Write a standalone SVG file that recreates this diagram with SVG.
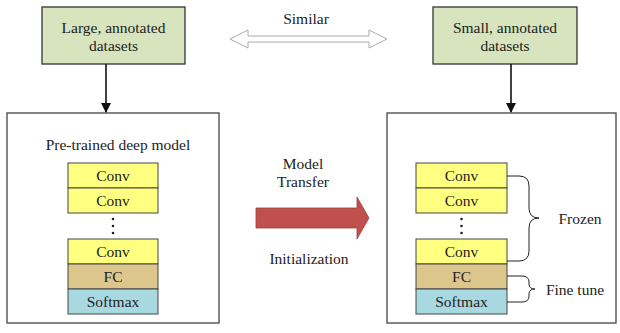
<svg xmlns="http://www.w3.org/2000/svg" width="620" height="333" viewBox="0 0 620 333">
<style>
text{font-family:'Liberation Serif','Times New Roman','DejaVu Serif',serif;font-size:15.5px;fill:#222;text-anchor:middle;dominant-baseline:central}
.ds{fill:#d7e4bd;stroke:#333;stroke-width:1.3}
.frame{fill:#fff;stroke:#444;stroke-width:1.3}
.conv{fill:#ffff80;stroke:#444;stroke-width:1}
.fc{fill:#dcc68c;stroke:#444;stroke-width:1}
.sm{fill:#a8d8e0;stroke:#444;stroke-width:1}
.ln{stroke:#111;stroke-width:1.6;fill:none}
.br{stroke:#222;stroke-width:1;fill:none}
</style>
<defs>
<marker id="ah" markerWidth="10" markerHeight="10" refX="9" refY="5" orient="auto" markerUnits="userSpaceOnUse">
<path d="M0,0 L10,5 L0,10 Z" fill="#111"/>
</marker>
</defs>
<rect width="620" height="333" fill="#fff"/>

<g id="large-datasets">
<rect class="ds" x="42" y="7" width="143" height="57"/>
<text x="113.5" y="27">Large, annotated</text>
<text x="113.5" y="45">datasets</text>
</g>
<g id="small-datasets">
<rect class="ds" x="433" y="7" width="144" height="57"/>
<text x="505" y="27">Small, annotated</text>
<text x="505" y="45">datasets</text>
</g>

<g id="pretrained-model">
<rect class="frame" x="7" y="113" width="212" height="210"/>
<text x="118" y="144">Pre-trained deep model</text>
<rect class="conv" x="68" y="163" width="90" height="25"/>
<text x="113" y="175.5">Conv</text>
<rect class="conv" x="68" y="188" width="90" height="25"/>
<text x="113" y="200.5">Conv</text>
<circle cx="113" cy="219" r="1.3" fill="#222"/>
<circle cx="113" cy="226" r="1.3" fill="#222"/>
<circle cx="113" cy="233" r="1.3" fill="#222"/>
<rect class="conv" x="68" y="239" width="90" height="25"/>
<text x="113" y="251.5">Conv</text>
<rect class="fc" x="68" y="264" width="90" height="25"/>
<text x="113" y="276.5">FC</text>
<rect class="sm" x="68" y="289" width="90" height="25"/>
<text x="113" y="301.5">Softmax</text>
</g>

<g id="target-model">
<rect class="frame" x="387" y="113" width="229" height="210"/>
<rect class="conv" x="416" y="163" width="91" height="25"/>
<text x="461.5" y="175.5">Conv</text>
<rect class="conv" x="416" y="188" width="91" height="25"/>
<text x="461.5" y="200.5">Conv</text>
<circle cx="461.5" cy="219" r="1.3" fill="#222"/>
<circle cx="461.5" cy="226" r="1.3" fill="#222"/>
<circle cx="461.5" cy="233" r="1.3" fill="#222"/>
<rect class="conv" x="416" y="239" width="91" height="25"/>
<text x="461.5" y="251.5">Conv</text>
<rect class="fc" x="416" y="264" width="91" height="25"/>
<text x="461.5" y="276.5">FC</text>
<rect class="sm" x="416" y="289" width="91" height="25"/>
<text x="461.5" y="301.5">Softmax</text>
</g>

<g id="frozen">
<path class="br" d="M507,176 L519,176 Q529,176 529,186 L529,208 Q529,218 539,218 Q529,218 529,228 L529,251 Q529,261 519,261 L507,261"/>
<text x="580" y="218">Frozen</text>
</g>
<g id="fine-tune">
<path class="br" d="M507,276 L522,276 Q529,276 529,282 L529,284 Q529,289 535,289 Q529,289 529,294 L529,296 Q529,302 522,302 L507,302"/>
<text x="575" y="289">Fine tune</text>
</g>

<g id="similar">
<path d="M230,39 L248,30 L248,36 L369,36 L369,30 L387,39 L369,48 L369,42 L248,42 L248,48 Z" fill="#fff" stroke="#aaa" stroke-width="1"/>
<text x="306" y="18">Similar</text>
</g>

<g id="model-transfer">
<text x="303" y="163">Model</text>
<text x="303" y="181">Transfer</text>
<path d="M256,208 L357,208 L357,197 L369,218 L357,239 L357,228 L256,228 Z" fill="#c0504d" stroke="#a0403d" stroke-width="0.8"/>
<text x="309" y="258">Initialization</text>
</g>

<g id="connectors">
<line class="ln" x1="106" y1="64" x2="106" y2="112" marker-end="url(#ah)"/>
<line class="ln" x1="511" y1="64" x2="511" y2="112" marker-end="url(#ah)"/>
</g>
</svg>
